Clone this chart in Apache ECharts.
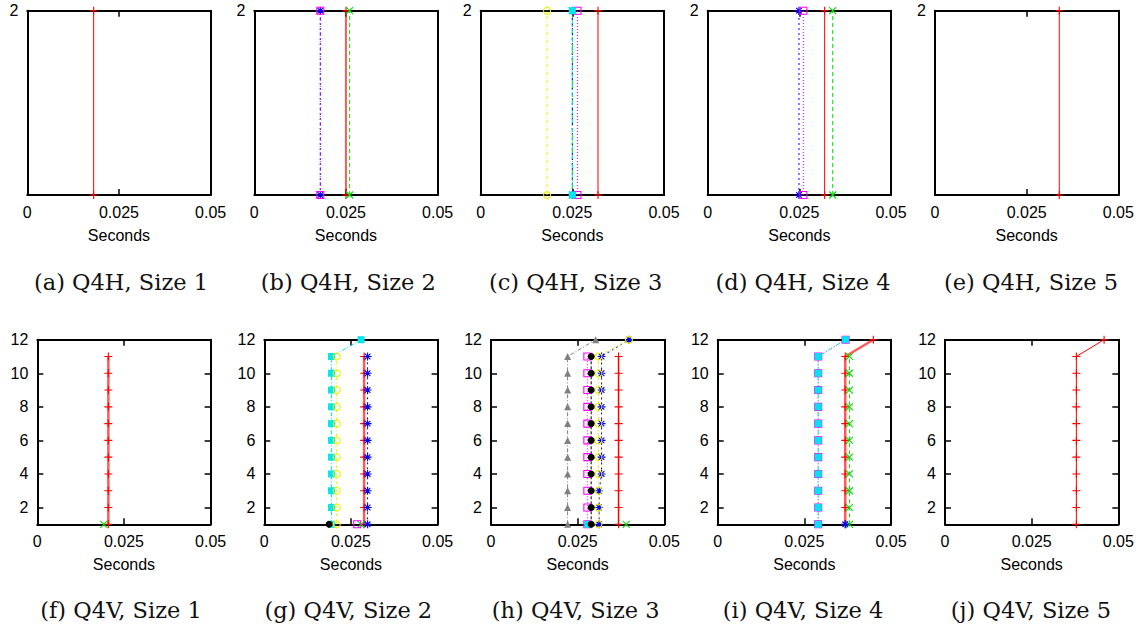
<!DOCTYPE html>
<html><head><meta charset="utf-8">
<script src="https://cdn.jsdelivr.net/npm/echarts@6/dist/echarts.min.js"></script>
<style>html,body{margin:0;padding:0;background:#fff}#c{width:1147px;height:630px}</style>
</head><body><div id="c"></div>
<script>
// ---------- data ----------
const X_TICKS = [0, 0.025, 0.05];
const X_TICK_LABELS = ['0', '0.025', '0.05'];
const X_NAME = 'Seconds';
const TOP_Y_TICKS = [2];
const BOTTOM_Y_TICKS = [2, 4, 6, 8, 10, 12];
const TOP_Y_RANGE = [1, 2];
const BOTTOM_Y_RANGE = [1, 12];
const LEVELS = [1, 2, 3, 4, 5, 6, 7, 8, 9, 10, 11, 12];

const CAPTIONS_TOP = ['(a) Q4H, Size 1', '(b) Q4H, Size 2', '(c) Q4H, Size 3', '(d) Q4H, Size 4', '(e) Q4H, Size 5'];
const CAPTIONS_BOTTOM = ['(f) Q4V, Size 1', '(g) Q4V, Size 2', '(h) Q4V, Size 3', '(i) Q4V, Size 4', '(j) Q4V, Size 5'];

// Q4H panels: [series, seconds] (vertical line from y=1 to y=2)
const Q4H_SIZE1 = [['red', 0.0181]];
const Q4H_SIZE2 = [['red', 0.0250], ['green', 0.0260], ['blue', 0.0180], ['magenta', 0.0180]];
const Q4H_SIZE3 = [['red', 0.0320], ['green', 0.0250], ['blue', 0.0250], ['magenta', 0.0264], ['cyan', 0.0250], ['yellow', 0.0181]];
const Q4H_SIZE4 = [['red', 0.0319], ['green', 0.0341], ['blue', 0.0249], ['magenta', 0.0261]];
const Q4H_SIZE5 = [['red', 0.0339]];

// Q4V panels: seconds per level 1..12 (null = no point)
const Q4V_S1_RED   = [0.0205, 0.0205, 0.0205, 0.0205, 0.0205, 0.0205, 0.0205, 0.0205, 0.0205, 0.0205, 0.0205, null];
const Q4V_S1_GREEN = [0.0192, null, null, null, null, null, null, null, null, null, null, null];

const Q4V_S2_RED     = [0.0288, 0.0288, 0.0288, 0.0288, 0.0288, 0.0288, 0.0288, 0.0288, 0.0288, 0.0288, 0.0288, null];
const Q4V_S2_GREEN   = [0.0279, null, null, null, null, null, null, null, null, null, null, null];
const Q4V_S2_BLUE    = [0.0298, 0.0298, 0.0298, 0.0298, 0.0298, 0.0298, 0.0298, 0.0298, 0.0298, 0.0298, 0.0298, null];
const Q4V_S2_MAGENTA = [0.0268, null, null, null, null, null, null, null, null, null, null, null];
const Q4V_S2_CYAN    = [0.0194, 0.0194, 0.0194, 0.0194, 0.0194, 0.0194, 0.0194, 0.0194, 0.0194, 0.0194, 0.0194, 0.0279];
const Q4V_S2_YELLOW  = [0.0209, 0.0209, 0.0209, 0.0209, 0.0209, 0.0209, 0.0209, 0.0209, 0.0209, 0.0209, 0.0209, null];
const Q4V_S2_BLACK   = [0.0187, null, null, null, null, null, null, null, null, null, null, null];

const Q4V_S3_RED     = [0.0368, 0.0368, 0.0368, 0.0368, 0.0368, 0.0368, 0.0368, 0.0368, 0.0368, 0.0368, 0.0368, null];
const Q4V_S3_GREEN   = [0.0390, null, null, null, null, null, null, null, null, null, null, null];
const Q4V_S3_BLUE    = [0.0312, 0.0312, 0.0312, 0.0319, 0.0319, 0.0319, 0.0319, 0.0319, 0.0319, 0.0319, 0.0319, 0.0398];
const Q4V_S3_MAGENTA = [0.0278, 0.0278, 0.0278, 0.0278, 0.0278, 0.0278, 0.0278, 0.0278, 0.0278, 0.0278, 0.0278, null];
const Q4V_S3_CYAN    = [0.0279, null, null, null, null, null, null, null, null, null, null, null];
const Q4V_S3_YELLOW  = [0.0310, 0.0310, 0.0310, 0.0310, 0.0310, 0.0310, 0.0310, 0.0310, 0.0310, 0.0310, 0.0310, 0.0398];
const Q4V_S3_BLACK   = [0.0289, 0.0289, 0.0289, 0.0289, 0.0289, 0.0289, 0.0289, 0.0289, 0.0289, 0.0289, 0.0289, null];
const Q4V_S3_GRAY    = [0.0221, 0.0221, 0.0221, 0.0221, 0.0221, 0.0221, 0.0221, 0.0221, 0.0221, 0.0221, 0.0221, 0.0302];

const Q4V_S4_RED     = [0.0368, 0.0368, 0.0368, 0.0368, 0.0368, 0.0368, 0.0368, 0.0368, 0.0368, 0.0368, 0.0368, 0.0449];
const Q4V_S4_GREEN   = [0.0380, 0.0380, 0.0380, 0.0380, 0.0380, 0.0380, 0.0380, 0.0380, 0.0380, 0.0380, 0.0380, null];
const Q4V_S4_BLUE    = [0.0368, null, null, null, null, null, null, null, null, null, null, null];
const Q4V_S4_MAGENTA = [0.0290, 0.0290, 0.0290, 0.0290, 0.0290, 0.0290, 0.0290, 0.0290, 0.0290, 0.0290, 0.0290, 0.0369];
const Q4V_S4_CYAN    = [0.0290, 0.0290, 0.0290, 0.0290, 0.0290, 0.0290, 0.0290, 0.0290, 0.0290, 0.0290, 0.0290, 0.0369];

const Q4V_S5_RED     = [0.0379, 0.0379, 0.0379, 0.0379, 0.0379, 0.0379, 0.0379, 0.0379, 0.0379, 0.0379, 0.0379, 0.0459];

// ---------- styles ----------
const PLUS = 'path://M0,5L10,5M5,0L5,10';
const CROSS = 'path://M0,0L10,10M10,0L0,10';
const STAR = 'path://M0,5L10,5M5,0L5,10M1.5,1.5L8.5,8.5M8.5,1.5L1.5,8.5';
const SQUARE_OPEN = 'path://M0,0L10,0L10,10L0,10Z';
const STYLE = {
  red:     { color: '#ff0000', symbol: PLUS, size: 8, stroke: true, dash: 'solid' },
  green:   { color: '#00e000', symbol: CROSS, size: 7, stroke: true, dash: [4, 3] },
  blue:    { color: '#0000ff', symbol: STAR, size: 8, stroke: true, dash: [2, 3] },
  magenta: { color: '#ff00ff', symbol: SQUARE_OPEN, size: 7, stroke: true, dash: [1, 2] },
  cyan:    { color: '#00e5ee', symbol: 'rect', size: 7, stroke: false, dash: [4, 2, 1, 2] },
  yellow:  { color: '#eeee00', symbol: 'circle', size: 7, stroke: true, dash: [3, 2, 1, 2] },
  black:   { color: '#000000', symbol: 'circle', size: 7, stroke: false, dash: [3, 2] },
  gray:    { color: '#808080', symbol: 'triangle', size: 7, stroke: false, dash: [4, 2, 1, 2] }
};
const ORDER = ['red', 'green', 'blue', 'magenta', 'cyan', 'yellow', 'black', 'gray'];

const FONT = 'Liberation Sans';
const TOP_LEFTS = [27.3, 254.3, 480.7, 707.7, 935];
const BOTTOM_LEFTS = [37.3, 264.3, 491, 717.7, 945];
const CAPTION_X = [121, 348.3, 575.6, 803, 1031];
const TOP_RED_WIDTH = [1, 2, 1, 1, 1];
const BOTTOM_RED_WIDTH = [2.5, 2.5, 1.5, 2.5, 1];

const TOP_PANELS = [Q4H_SIZE1, Q4H_SIZE2, Q4H_SIZE3, Q4H_SIZE4, Q4H_SIZE5];
const BOTTOM_PANELS = [
  { red: Q4V_S1_RED, green: Q4V_S1_GREEN },
  { red: Q4V_S2_RED, green: Q4V_S2_GREEN, blue: Q4V_S2_BLUE, magenta: Q4V_S2_MAGENTA, cyan: Q4V_S2_CYAN, yellow: Q4V_S2_YELLOW, black: Q4V_S2_BLACK },
  { red: Q4V_S3_RED, green: Q4V_S3_GREEN, blue: Q4V_S3_BLUE, magenta: Q4V_S3_MAGENTA, cyan: Q4V_S3_CYAN, yellow: Q4V_S3_YELLOW, black: Q4V_S3_BLACK, gray: Q4V_S3_GRAY },
  { red: Q4V_S4_RED, green: Q4V_S4_GREEN, blue: Q4V_S4_BLUE, magenta: Q4V_S4_MAGENTA, cyan: Q4V_S4_CYAN },
  { red: Q4V_S5_RED }
];

// ---------- build ----------
const grids = [], xAxes = [], yAxes = [], series = [], graphics = [];
const labelStyle = { fontFamily: FONT, fontSize: 16, color: '#000' };

function xLabel(v) {
  const i = X_TICKS.findIndex(t => Math.abs(t - v) < 1e-9);
  return i >= 0 ? X_TICK_LABELS[i] : '';
}
function line() { return { show: true, onZero: false, lineStyle: { color: '#000', width: 2 } }; }
function tick(show, custom) {
  const t = { show, inside: true, length: 6, lineStyle: { color: '#000', width: 1.5 } };
  if (custom) t.customValues = custom;
  return t;
}

function addGrid(left, top, width, height, yRange, yTicks, showYTicks) {
  const gi = grids.length;
  grids.push({ left, top, width, height, show: false });
  const xCommon = { gridIndex: gi, type: 'value', min: X_TICKS[0], max: X_TICKS[X_TICKS.length - 1], interval: X_TICKS[1] - X_TICKS[0], splitLine: { show: false } };
  xAxes.push(Object.assign({}, xCommon, {
    position: 'bottom', axisLine: line(), axisTick: tick(true),
    axisLabel: Object.assign({ margin: 9, formatter: xLabel }, labelStyle),
    name: X_NAME, nameLocation: 'middle', nameGap: 32, nameTextStyle: labelStyle
  }));
  xAxes.push(Object.assign({}, xCommon, { position: 'top', axisLine: line(), axisTick: tick(true), axisLabel: { show: false } }));
  const yCommon = { gridIndex: gi, type: 'value', min: yRange[0], max: yRange[1], splitLine: { show: false } };
  yAxes.push(Object.assign({}, yCommon, {
    position: 'left', axisLine: line(), axisTick: tick(showYTicks, yTicks),
    axisLabel: Object.assign({ margin: 9, customValues: yTicks }, labelStyle)
  }));
  yAxes.push(Object.assign({}, yCommon, { position: 'right', axisLine: line(), axisTick: tick(showYTicks, yTicks), axisLabel: { show: false } }));
  // invisible anchor so the mirrored (top/right) axes get a scale and are drawn
  series.push({ type: 'line', xAxisIndex: 2 * gi + 1, yAxisIndex: 2 * gi + 1, data: [[X_TICKS[0], yRange[0]]],
    symbol: 'none', lineStyle: { opacity: 0 }, silent: true, animation: false });
  return gi;
}

function addSeries(gi, key, data, width) {
  const s = STYLE[key];
  series.push({
    type: 'line', xAxisIndex: 2 * gi, yAxisIndex: 2 * gi, data,
    symbol: s.symbol, symbolSize: s.size, showSymbol: true, clip: false, silent: true, animation: false,
    lineStyle: { color: s.color, width: width || 1, type: s.dash, opacity: width && width > 1.5 ? 0.65 : 1 },
    itemStyle: s.stroke ? { color: 'rgba(0,0,0,0)', borderColor: s.color, borderWidth: 1.1 } : { color: s.color, borderWidth: 0 },
    emphasis: { disabled: true }
  });
}

TOP_PANELS.forEach((panel, p) => {
  const gi = addGrid(TOP_LEFTS[p], 10.7, 183.3, 184.3, TOP_Y_RANGE, TOP_Y_TICKS, false);
  ORDER.forEach(key => {
    panel.filter(e => e[0] === key).forEach(e => {
      addSeries(gi, key, [[e[1], TOP_Y_RANGE[0]], [e[1], TOP_Y_RANGE[1]]], key === 'red' ? TOP_RED_WIDTH[p] : 1);
    });
  });
  graphics.push({ type: 'text', x: CAPTION_X[p], y: 282, silent: true,
    style: { text: CAPTIONS_TOP[p], fill: '#111', font: '22.5px "DejaVu Serif"', align: 'center', verticalAlign: 'middle' } });
});

BOTTOM_PANELS.forEach((panel, p) => {
  const gi = addGrid(BOTTOM_LEFTS[p], 339.7, 173.3, 184.6, BOTTOM_Y_RANGE, BOTTOM_Y_TICKS, true);
  ORDER.forEach(key => {
    const arr = panel[key];
    if (!arr) return;
    const data = [];
    arr.forEach((v, i) => { if (v !== null) data.push([v, LEVELS[i]]); });
    addSeries(gi, key, data, key === 'red' ? BOTTOM_RED_WIDTH[p] : 1);
  });
  graphics.push({ type: 'text', x: CAPTION_X[p], y: 610, silent: true,
    style: { text: CAPTIONS_BOTTOM[p], fill: '#111', font: '22.5px "DejaVu Serif"', align: 'center', verticalAlign: 'middle' } });
});

const chart = echarts.init(document.getElementById('c'), null, { renderer: 'svg' });
chart.setOption({
  animation: false,
  backgroundColor: '#fff',
  grid: grids, xAxis: xAxes, yAxis: yAxes, series,
  graphic: graphics
});
</script>
</body></html>
